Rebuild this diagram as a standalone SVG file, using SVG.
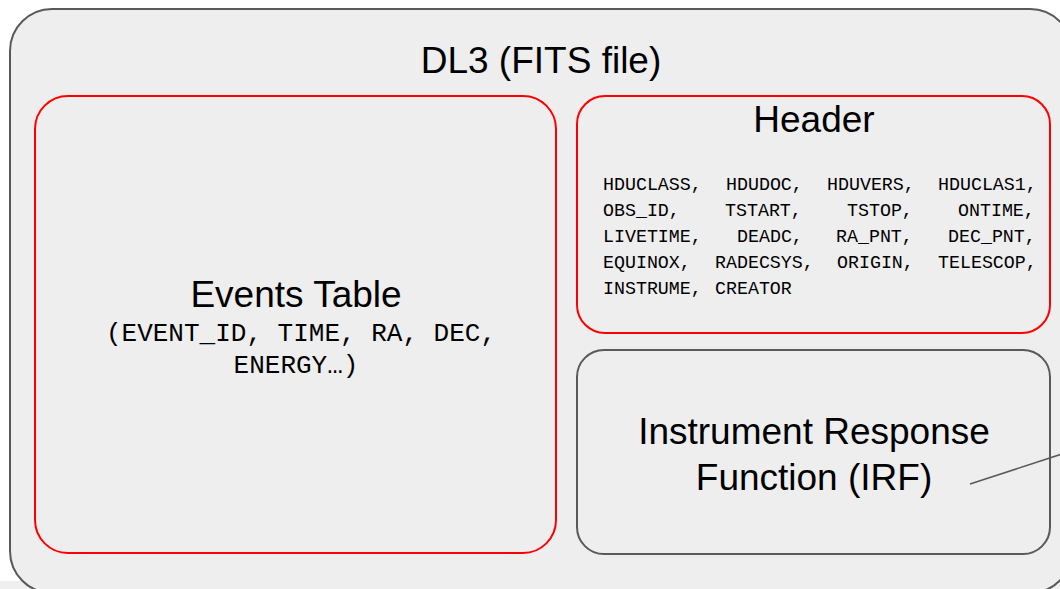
<svg xmlns="http://www.w3.org/2000/svg" width="1060" height="589" viewBox="0 0 1060 589">
  <style>
    .frame { fill: #eeeeee; stroke: #595959; stroke-width: 2; }
    .part { fill: #eeeeee; stroke: #ff0000; stroke-width: 2; }
    .title { font-family: "Liberation Sans", Arial, sans-serif; font-size: 37px; fill: #000000; text-anchor: middle; }
    .mono { font-family: "Liberation Mono", "Courier New", monospace; fill: #000000; }
    .hdr { font-size: 18.3px; }
    .cols { font-size: 26px; text-anchor: middle; }
    .link { fill: none; stroke: #595959; stroke-width: 1.5; }
  </style>

  <!-- page background -->
  <rect x="0" y="0" width="1060" height="589" fill="#ffffff"/>
  <rect x="0" y="581" width="1060" height="8" fill="#efefef"/>

  <!-- outer container -->
  <g id="dl3">
    <rect class="frame" x="10" y="9" width="1062" height="584" rx="42" ry="42"/>
    <text class="title" x="541" y="73">DL3 (FITS file)</text>
  </g>

  <!-- events table -->
  <g id="events">
    <rect class="part" x="35" y="96" width="521" height="457" rx="33" ry="33"/>
    <text class="title" x="296" y="307">Events Table</text>
    <text class="mono cols" x="301" y="341">(EVENT_ID, TIME, RA, DEC,</text>
    <text class="mono cols" x="296" y="373">ENERGY…)</text>
  </g>

  <!-- header keywords -->
  <g id="header">
    <rect class="part" x="577" y="96" width="473" height="237" rx="28" ry="28"/>
    <text class="title" x="814" y="132">Header</text>
    <g class="mono hdr">
      <text y="190"><tspan x="603">HDUCLASS,</tspan><tspan x="726">HDUDOC,</tspan><tspan x="827">HDUVERS,</tspan><tspan x="938">HDUCLAS1,</tspan></text>
      <text y="216"><tspan x="603">OBS_ID,</tspan><tspan x="725">TSTART,</tspan><tspan x="847">TSTOP,</tspan><tspan x="958">ONTIME,</tspan></text>
      <text y="242"><tspan x="603">LIVETIME,</tspan><tspan x="737">DEADC,</tspan><tspan x="836">RA_PNT,</tspan><tspan x="948">DEC_PNT,</tspan></text>
      <text y="268"><tspan x="603">EQUINOX,</tspan><tspan x="715">RADECSYS,</tspan><tspan x="837">ORIGIN,</tspan><tspan x="938">TELESCOP,</tspan></text>
      <text y="294"><tspan x="603">INSTRUME,</tspan><tspan x="715">CREATOR</tspan></text>
    </g>
  </g>

  <!-- instrument response function -->
  <g id="irf">
    <rect class="frame" x="577" y="350" width="473" height="204" rx="27" ry="27"/>
    <text class="title" x="814" y="444">Instrument Response</text>
    <text class="title" x="814" y="490">Function (IRF)</text>
  </g>

  <!-- connectors -->
  <g id="connectors">
    <line class="link" x1="970" y1="484" x2="1062" y2="454"/>
  </g>
</svg>
